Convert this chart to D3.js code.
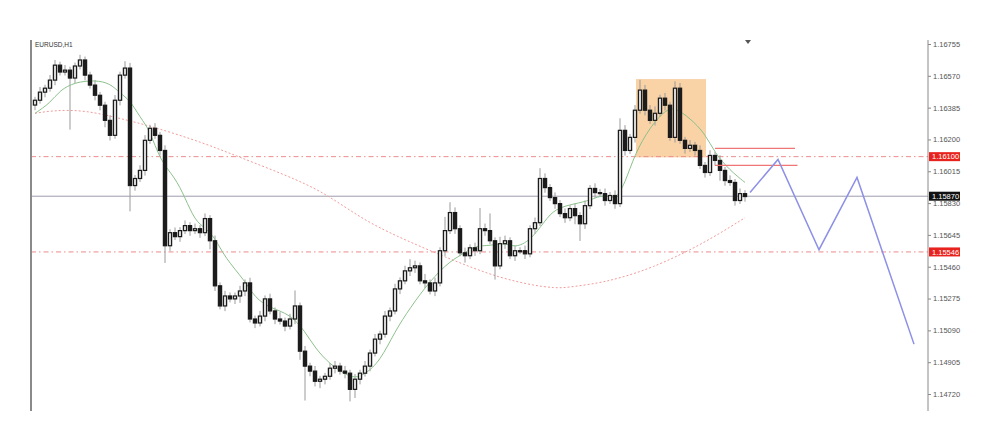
<!DOCTYPE html>
<html><head><meta charset="utf-8">
<script src="https://cdn.jsdelivr.net/npm/d3@7/dist/d3.min.js"></script>
<style>html,body{margin:0;padding:0;background:#fff;}svg{display:block;}</style>
</head><body>
<svg id="chart" width="1000" height="442"></svg>
<script>
// ---------- DATA ----------
const symbol = "EURUSD,H1";
const firstOpen = 1.16400;
const closes = [
1.16428,1.16475,1.16498,1.16545,1.16632,1.16592,1.16603,1.16557,1.16627,1.16662,
1.16574,1.16516,1.16457,1.16399,1.16311,1.16224,1.16428,1.16574,1.16615,1.15932,
1.15973,1.16020,1.16195,1.16265,1.16224,1.16136,1.15582,1.15658,1.15635,1.15670,
1.15699,1.15670,1.15681,1.15658,1.15740,1.15611,1.15349,1.15232,1.15290,1.15273,
1.15290,1.15319,1.15366,1.15156,1.15133,1.15173,1.15273,1.15203,1.15156,1.15144,
1.15115,1.15156,1.15232,1.14969,1.14882,1.14853,1.14794,1.14806,1.14823,1.14870,
1.14882,1.14853,1.14841,1.14747,1.14806,1.14841,1.14882,1.14958,1.15039,1.15068,
1.15173,1.15203,1.15331,1.15378,1.15436,1.15454,1.15465,1.15378,1.15366,1.15319,
1.15366,1.15553,1.15670,1.15775,1.15681,1.15541,1.15524,1.15570,1.15553,1.15681,
1.15670,1.15611,1.15465,1.15594,1.15611,1.15524,1.15553,1.15553,1.15535,1.15681,
1.15716,1.15973,1.15920,1.15862,1.15827,1.15769,1.15745,1.15798,1.15757,1.15710,
1.15815,1.15915,1.15891,1.15885,1.15845,1.15874,1.15827,1.16253,1.16136,1.16212,
1.16370,1.16487,1.16370,1.16311,1.16352,1.16440,1.16399,1.16212,1.16498,1.16195,
1.16148,1.16166,1.16136,1.16049,1.16008,1.16107,1.16078,1.16020,1.15961,1.15950,
1.15845,1.15885,1.15868
];
// wick extension beyond body, in pips
const upWick = [
2,3,2,3,3,2,3,2,2,3, 2,2,3,2,2,3,3,2,4,3, 2,3,3,2,3,2,3,2,3,2, 3,2,3,2,3,2,3,2,3,2,
2,3,2,3,2,3,2,3,2,4, 2,3,9,2,3,2,3,2,2,3, 3,2,3,2,3,2,3,2,3,2, 3,2,3,2,3,5,3,2,4,2,
3,2,8,6,3,2,3,2,3,12, 3,10,2,4,3,2,3,2,3,2, 3,6,3,2,3,2,3,2,3,2, 3,2,3,2,3,2,3,7,3,2,
3,6,3,3,4,2,3,2,4,3, 2,3,2,3,2,3,2,3,2,3, 2,3,2
];
const dnWick = [
3,2,3,2,3,2,2,30,3,2, 3,2,3,3,4,3,2,3,2,15, 3,2,3,2,2,3,10,3,2,3, 2,3,2,3,2,5,3,2,3,2,
3,4,3,2,3,2,3,2,3,2, 3,2,3,5,20,3,3,4,3,2, 3,2,3,7,5,3,2,3,2,3, 2,3,2,3,2,3,3,2,3,2,
3,2,3,2,3,2,4,2,3,2, 3,2,8,2,3,2,3,2,3,2, 3,2,3,2,3,2,3,2,5,10, 3,2,3,2,3,2,3,2,3,2,
3,2,3,2,3,2,3,2,3,2, 3,2,3,2,3,2,3,6,3,2, 3,2,3
];
// fast (green) moving average, sampled
const maFastIdx = [0,3,5,8,12,15,17,19,21,23,25,28,30,32,34,36,38,42,44,47,51,54,56,59,62,64,66,69,72,75,79,83,86,88,91,94,96,99,102,104,108,111,114,116,118,120,123,126,128,131,134,136,139,142];
const maFastVal = [1.16352,1.16411,1.16487,1.16533,1.16545,1.16527,1.16469,1.16428,1.16329,1.16253,1.16078,1.15979,1.15862,1.15727,1.15687,1.15629,1.15512,1.15378,1.15279,1.15220,1.15185,1.15085,1.14987,1.14893,1.14835,1.14812,1.14835,1.14910,1.15085,1.15220,1.15378,1.15494,1.15541,1.15582,1.15582,1.15600,1.15570,1.15610,1.15727,1.15798,1.15827,1.15845,1.15885,1.15845,1.15944,1.16119,1.16271,1.16370,1.16387,1.16323,1.16236,1.16119,1.16020,1.15950];
// slow (red dotted) moving average, sampled
const maSlowIdx = [0,4,10,17,24,34,40,53,59,66,73,80,86,93,100,104,106,113,117,123,133,142];
const maSlowVal = [1.16352,1.16370,1.16370,1.16323,1.16271,1.16177,1.16107,1.15961,1.15868,1.15727,1.15629,1.15541,1.15470,1.15395,1.15349,1.15337,1.15337,1.15366,1.15395,1.15448,1.15582,1.15745];
// levels
const levelsDashed = [1.16100, 1.15546];
const currentPrice = 1.15870;
const shortLines = [{p:1.16148, i0:136, i1:152},{p:1.16049, i0:136, i1:152.5}];
const zoneBox = {i0:120.2, i1:134.2, top:1.16551, bottom:1.16096};
const pathIdx = [143, 148.6, 156.8, 164.4, 175.8];
const pathVal = [1.15891, 1.16084, 1.15559, 1.15979, 1.15010];
const tickValues = [1.16755,1.16570,1.16385,1.16200,1.16015,1.15830,1.15645,1.15460,1.15275,1.15090,1.14905,1.14720];

// ---------- DRAW ----------
const svg = d3.select("#chart");
const defs = svg.append("defs");
defs.append("filter").attr("id", "soft").append("feGaussianBlur").attr("stdDeviation", 0.45);
const root = svg.append("g").attr("filter", "url(#soft)");

const x = d3.scaleLinear().domain([0, 142]).range([35, 745]);
const y = d3.scaleLinear().domain([1.14720, 1.16755]).range([394, 44]);
const plotL = 31, plotR = 928, plotT = 40, plotB = 411;
const pip = 0.0001;

// zone box
root.append("rect")
  .attr("x", x(zoneBox.i0)).attr("y", y(zoneBox.top))
  .attr("width", x(zoneBox.i1) - x(zoneBox.i0))
  .attr("height", y(zoneBox.bottom) - y(zoneBox.top))
  .attr("fill", "#f9d2a6");

// dashed levels
root.selectAll(".lvl").data(levelsDashed).enter().append("line")
  .attr("x1", plotL).attr("x2", plotR)
  .attr("y1", d => y(d)).attr("y2", d => y(d))
  .attr("stroke", "#ec8c8c").attr("stroke-width", 1)
  .attr("stroke-dasharray", "5,3,1.5,3");

// current price line
root.append("line").attr("x1", plotL).attr("x2", plotR)
  .attr("y1", y(currentPrice)).attr("y2", y(currentPrice))
  .attr("stroke", "#9c9cae").attr("stroke-width", 1);

// slow MA
const lineGen = d3.line().curve(d3.curveBasis);
root.append("path")
  .attr("d", lineGen(maSlowIdx.map((d, k) => [x(d), y(maSlowVal[k])])))
  .attr("fill", "none").attr("stroke", "#f19a9a").attr("stroke-width", 1)
  .attr("stroke-dasharray", "2,2");

// candles
const candles = closes.map((c, i) => {
  const o = i === 0 ? firstOpen : closes[i - 1];
  return {i, o, c, h: Math.max(o, c) + upWick[i] * pip, l: Math.min(o, c) - dnWick[i] * pip};
});
root.append("g").selectAll(".wick").data(candles).enter().append("line")
  .attr("x1", d => x(d.i)).attr("x2", d => x(d.i))
  .attr("y1", d => y(d.h)).attr("y2", d => y(d.l))
  .attr("stroke", "#9a9a9a").attr("stroke-width", 1);

// fast MA
root.append("path")
  .attr("d", lineGen(maFastIdx.map((d, k) => [x(d), y(maFastVal[k])])))
  .attr("fill", "none").attr("stroke", "#8cc08c").attr("stroke-width", 1);

const bw = 3.2;
root.append("g").selectAll(".body").data(candles).enter().append("rect")
  .attr("x", d => x(d.i) - bw / 2)
  .attr("y", d => y(Math.max(d.o, d.c)))
  .attr("width", bw)
  .attr("height", d => Math.max(1, Math.abs(y(d.o) - y(d.c))))
  .attr("fill", d => d.c > d.o ? "#d8d8d8" : "#1a1a1a")
  .attr("stroke", "#1a1a1a").attr("stroke-width", 1.2);

// short red lines
root.selectAll(".sl").data(shortLines).enter().append("line")
  .attr("x1", d => x(d.i0)).attr("x2", d => x(d.i1))
  .attr("y1", d => y(d.p)).attr("y2", d => y(d.p))
  .attr("stroke", "#f07474").attr("stroke-width", 1.3);

// projection path
root.append("path")
  .attr("d", d3.line()(pathIdx.map((d, k) => [x(d), y(pathVal[k])])))
  .attr("fill", "none").attr("stroke", "#8c90e6").attr("stroke-width", 1.5);

// left border
root.append("line").attr("x1", plotL).attr("x2", plotL).attr("y1", plotT).attr("y2", plotB)
  .attr("stroke", "#8a8a8a").attr("stroke-width", 2);

// right axis
const axis = d3.axisRight(y).tickValues(tickValues).tickSize(3).tickFormat(d3.format(".5f"));
const ag = svg.append("g").attr("transform", `translate(${plotR},0)`).call(axis);
ag.select(".domain").attr("d", `M0,${plotT}V${plotB}`).attr("stroke", "#8a8a8a");
ag.selectAll(".tick line").attr("stroke", "#8a8a8a");
ag.selectAll(".tick text").attr("x", 5).attr("fill", "#555")
  .style("font-family", "'Liberation Sans', Arial, sans-serif").style("font-size", "7.5px");

// price labels
const labels = [{p: levelsDashed[0], bg: "#e8231e"}, {p: levelsDashed[1], bg: "#e8231e"}, {p: currentPrice, bg: "#111"}];
const lg = svg.append("g").selectAll("g").data(labels).enter().append("g")
  .attr("transform", d => `translate(${plotR + 1},${y(d.p)})`);
lg.append("rect").attr("x", 0).attr("y", -4.5).attr("width", 31).attr("height", 9).attr("fill", d => d.bg);
lg.append("text").attr("x", 3).attr("y", 2.8).attr("fill", "#fff")
  .style("font-family", "'Liberation Sans', Arial, sans-serif").style("font-size", "7.5px")
  .text(d => d.p.toFixed(5));

// title
svg.append("text").attr("x", 35).attr("y", 47).attr("fill", "#333")
  .style("font-family", "'Liberation Sans', Arial, sans-serif").style("font-size", "6.5px")
  .text(symbol);

// small marker at top
svg.append("path").attr("d", "M745,40 L751,40 L748,44 Z").attr("fill", "#555");
</script>
</body></html>
